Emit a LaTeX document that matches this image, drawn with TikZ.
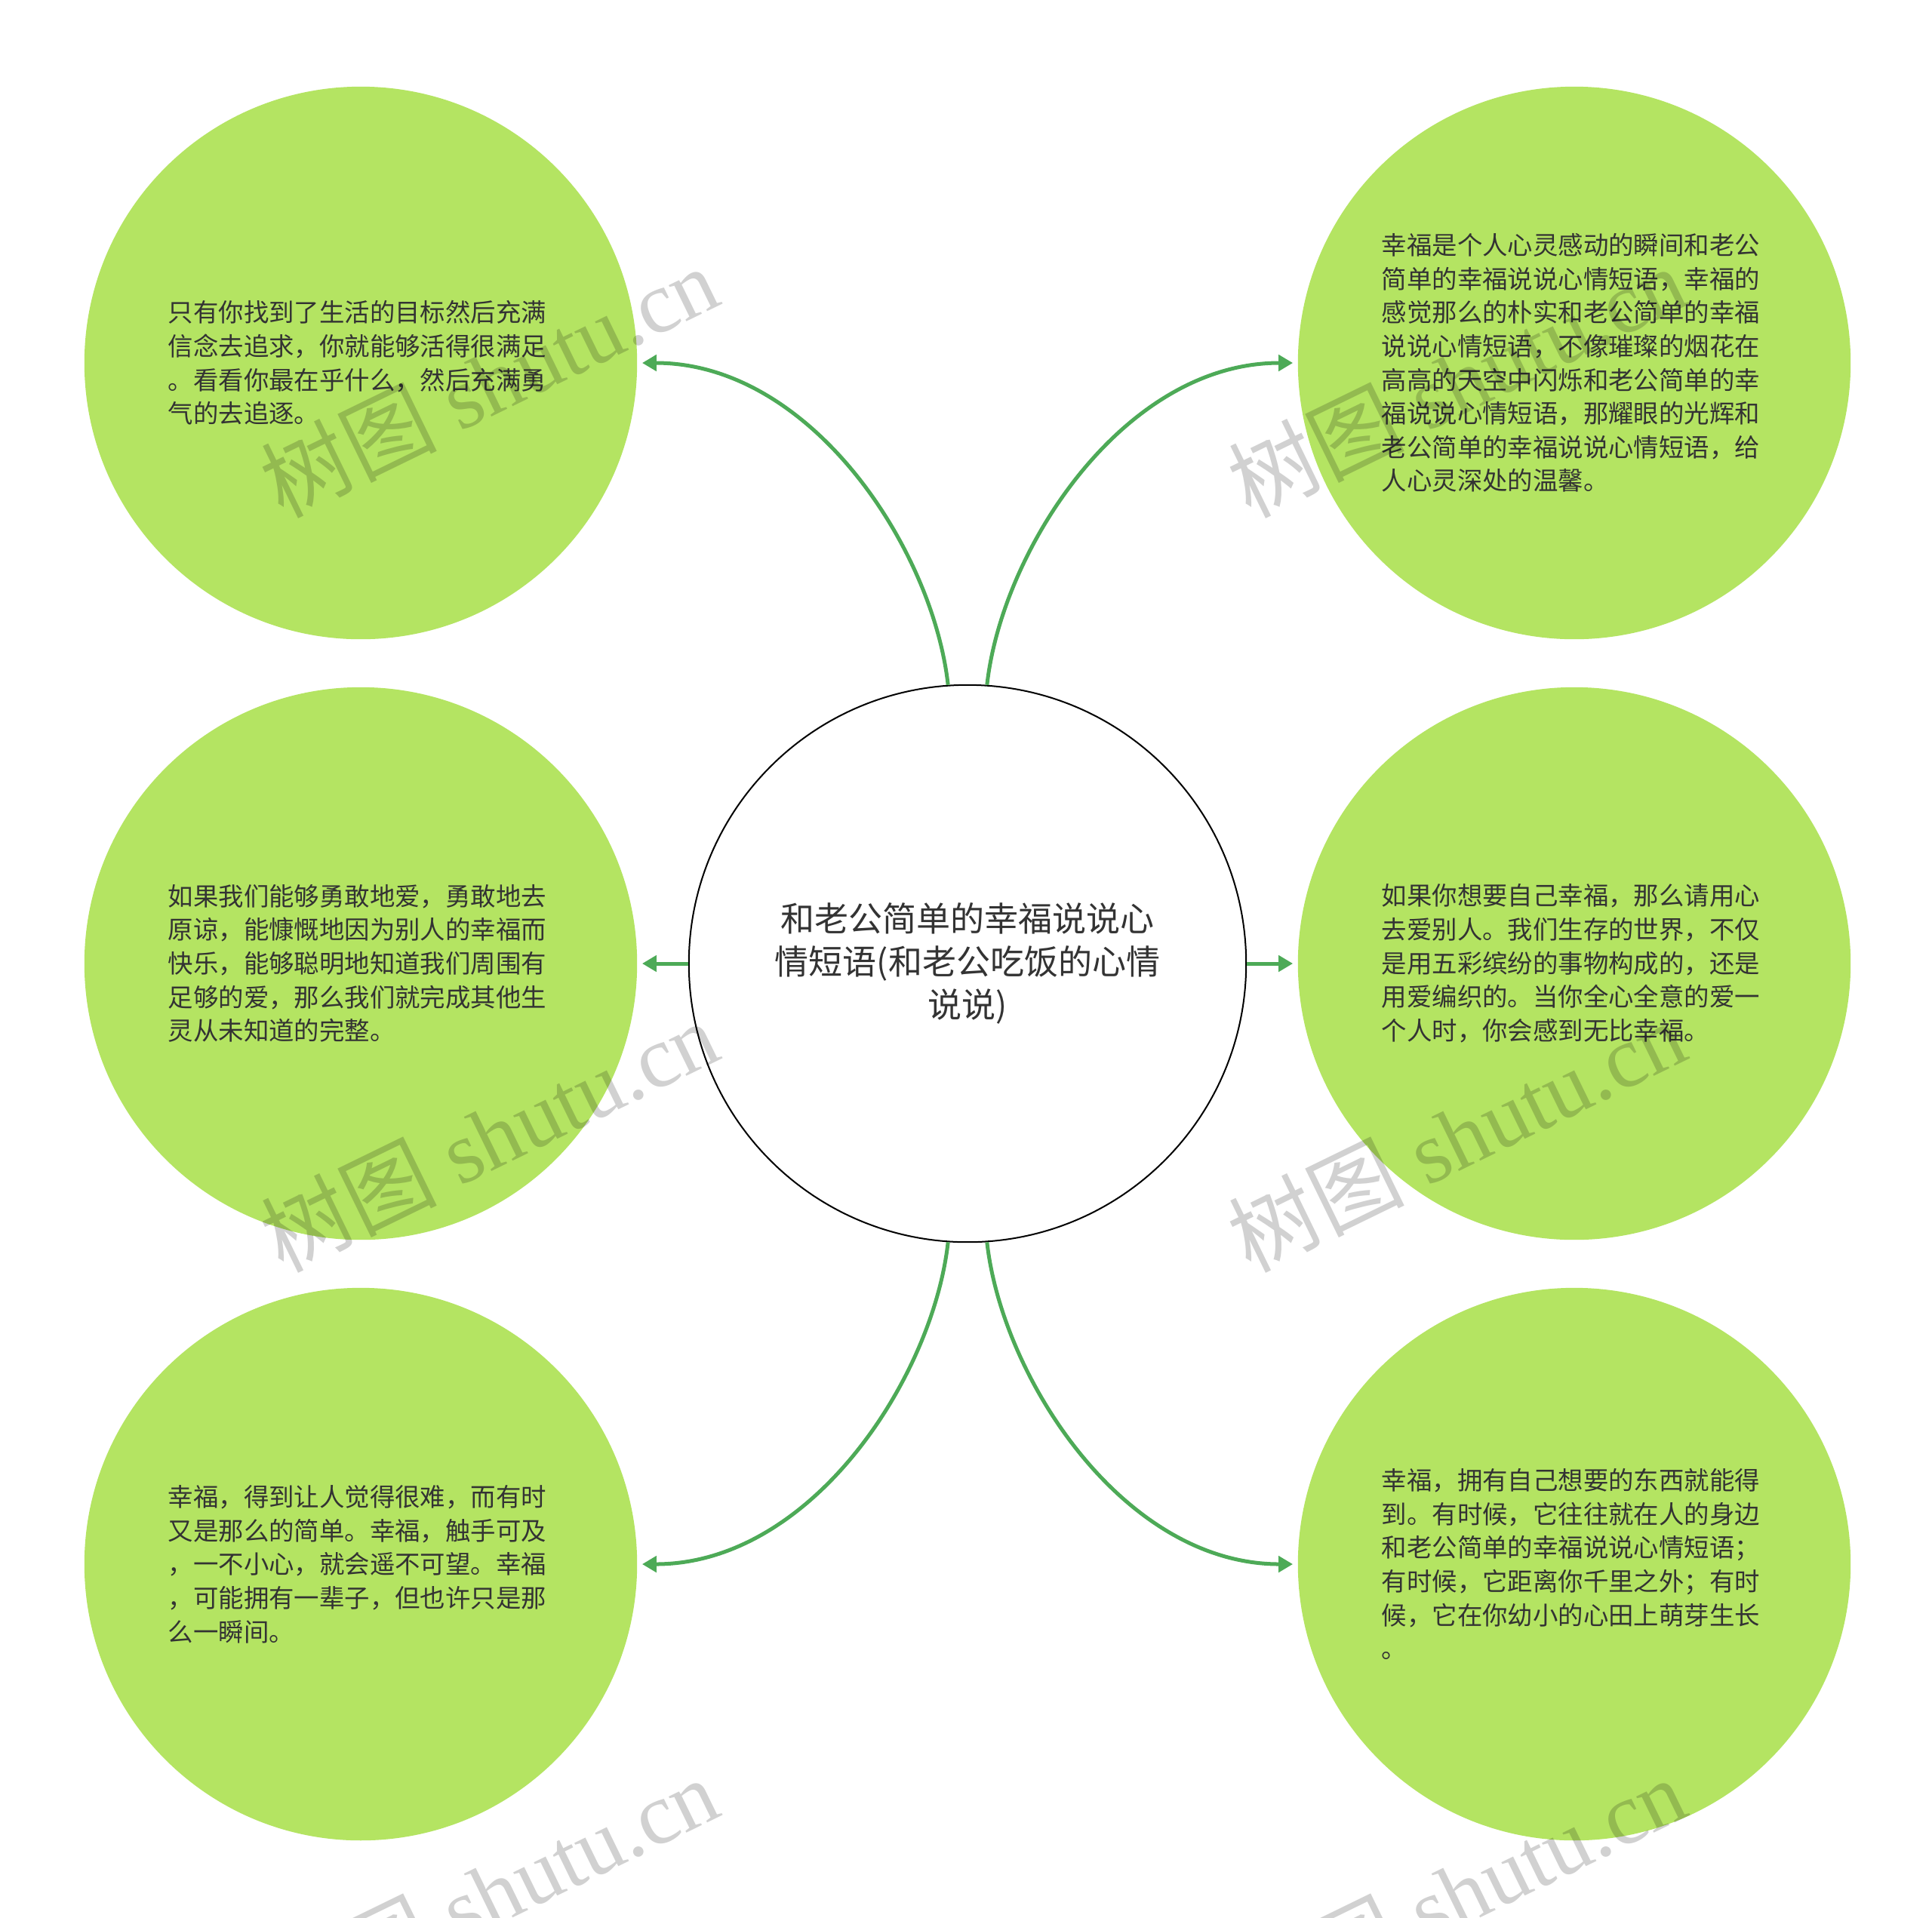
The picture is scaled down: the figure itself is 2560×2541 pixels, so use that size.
\documentclass[tikz,border=0pt]{standalone}
\usepackage{fontspec}
\setmainfont{Liberation Serif}
\newfontfamily\cjk{Noto Sans CJK SC}
\usepackage{tikz}
\usetikzlibrary{arrows.meta}
\definecolor{leafgreen}{HTML}{B4E462}
\definecolor{linkgreen}{HTML}{4DAA57}
\definecolor{inkgray}{HTML}{333333}

\begin{document}
\begin{tikzpicture}[x=0.01cm, y=0.01cm,
           topic/.style={draw=black, line width=0.02cm, circle, fill=white,
              minimum size=7.38cm, inner sep=0pt, text width=6cm, align=center,
              text=inkgray, font=\cjk\fontsize{12.8}{16.3}\selectfont},
           idea/.style={circle, fill=leafgreen, minimum size=7.32cm, inner sep=0pt,
              text width=5.1cm, align=left, text=inkgray,
              font=\cjk\fontsize{9.5}{12.7}\selectfont},
           connections/.style={-{Triangle[length=0.19cm,width=0.21cm]}, draw=linkgreen,
              line width=0.05cm, shorten >=0.06cm},
           stamp/.style={rotate=26, text=black, opacity=0.18, font=\fontsize{33}{33}\selectfont},
        ]
        \useasboundingbox[fill=white] (0,0) rectangle (2560,-2541);
        \clip (0,0) rectangle (2560,-2541);

        \node at (1282,-1277) (hub) [topic] {和老公简单的幸福说说心\\情短语(和老公吃饭的心情\\说说)};

        \node at (478,-481) (lefttop) [idea] {只有你找到了生活的目标然后充满\\信念去追求，你就能够活得很满足\\。看看你最在乎什么，然后充满勇\\气的去追逐。};
        \node at (2086,-481) (righttop) [idea] {幸福是个人心灵感动的瞬间和老公\\简单的幸福说说心情短语，幸福的\\感觉那么的朴实和老公简单的幸福\\说说心情短语，不像璀璨的烟花在\\高高的天空中闪烁和老公简单的幸\\福说说心情短语，那耀眼的光辉和\\老公简单的幸福说说心情短语，给\\人心灵深处的温馨。};
        \node at (478,-1277) (leftmid) [idea] {如果我们能够勇敢地爱，勇敢地去\\原谅，能慷慨地因为别人的幸福而\\快乐，能够聪明地知道我们周围有\\足够的爱，那么我们就完成其他生\\灵从未知道的完整。};
        \node at (2086,-1277) (rightmid) [idea] {如果你想要自己幸福，那么请用心\\去爱别人。我们生存的世界，不仅\\是用五彩缤纷的事物构成的，还是\\用爱编织的。当你全心全意的爱一\\个人时，你会感到无比幸福。};
        \node at (478,-2073) (leftbot) [idea] {幸福，得到让人觉得很难，而有时\\又是那么的简单。幸福，触手可及\\，一不小心，就会遥不可望。幸福\\，可能拥有一辈子，但也许只是那\\么一瞬间。};
        \node at (2086,-2073) (rightbot) [idea] {幸福，拥有自己想要的东西就能得\\到。有时候，它往往就在人的身边\\和老公简单的幸福说说心情短语；\\有时候，它距离你千里之外；有时\\候，它在你幼小的心田上萌芽生长\\。};

        \draw[connections] (hub.94) .. controls +(-20,180) and +(230,0) .. (lefttop.east);
        \draw[connections] (hub.86) .. controls +(20,180) and +(-230,0) .. (righttop.west);
        \draw[connections] (hub.west) -- (leftmid.east);
        \draw[connections] (hub.east) -- (rightmid.west);
        \draw[connections] (hub.266) .. controls +(-20,-180) and +(230,0) .. (leftbot.east);
        \draw[connections] (hub.274) .. controls +(20,-180) and +(-230,0) .. (rightbot.west);

        \foreach \x/\y [count=\i] in {648/-505, 648/-1505, 648/-2508, 1930/-505, 1930/-1505, 1930/-2508}
            \node[stamp] (mark\i) at (\x,\y) {{\cjk 树图} shutu.cn};
     \end{tikzpicture}
\end{document}
